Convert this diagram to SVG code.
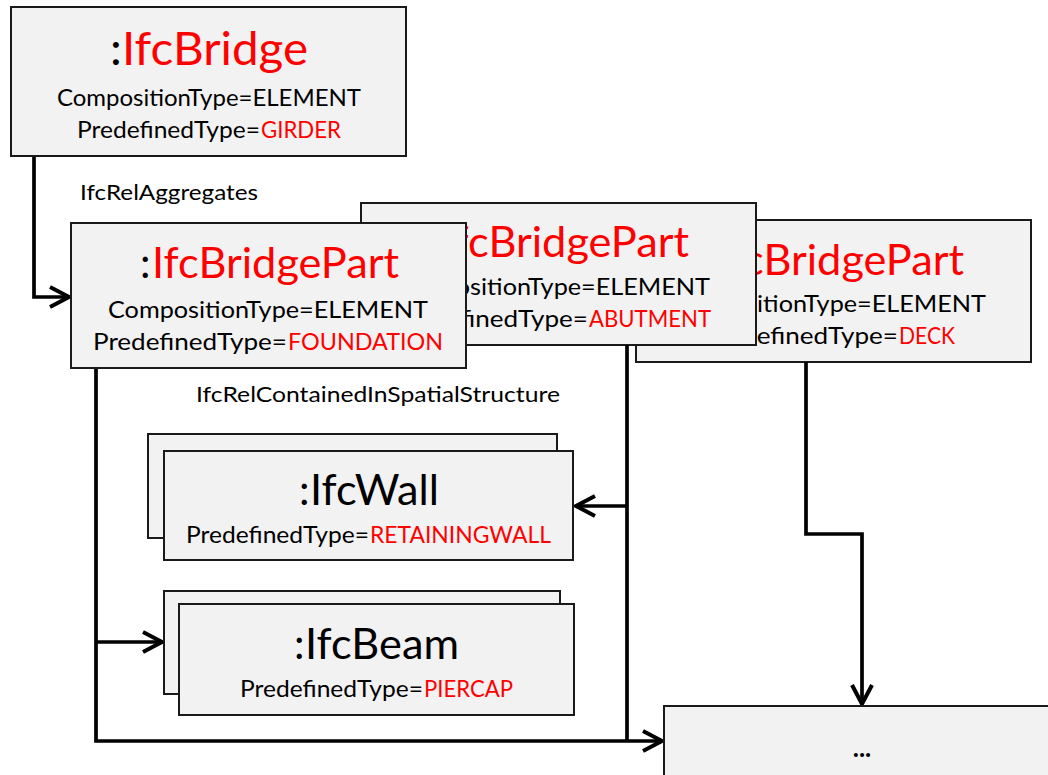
<svg xmlns="http://www.w3.org/2000/svg" width="1048" height="775" viewBox="0 0 1048 775">
  <style>
    .box { fill: #f2f2f2; stroke: #1a1a1a; stroke-width: 2; }
    text { font-family: Lato, "Open Sans", "Liberation Sans", sans-serif; fill: #000; }
    .red { fill: #ff0000; }
    .t1 { font-size: 47px; }
    .t2 { font-size: 42px; }
    .ln { font-size: 23.5px; }
    .lbl { font-size: 20.5px; }
    .wire { fill: none; stroke: #000; stroke-width: 3.7; stroke-linejoin: miter; }
  </style>
  <defs>
    <marker id="open-arrow" markerUnits="userSpaceOnUse" markerWidth="30" markerHeight="30" viewBox="-24 -14 30 28" refX="0" refY="0" orient="auto">
      <path d="M-19,-10 L0,0 L-19,10" fill="none" stroke="#000" stroke-width="4"/>
    </marker>
    <!-- visible area of the deck part (right of the abutment part / below it) -->
    <clipPath id="deck-visible">
      <path d="M756,200 H1048 V380 H600 V345 H756 Z"/>
    </clipPath>
    <!-- visible area of the abutment part (right of the foundation part) -->
    <clipPath id="abutment-visible">
      <path d="M466,190 H760 V350 H466 Z"/>
    </clipPath>
  </defs>

  <!-- deck part sits behind the abutment part, which sits behind the foundation part -->
  <g id="part-deck">
    <rect class="box" x="636" y="220" width="395" height="142"/>
    <g clip-path="url(#deck-visible)">
      <text class="t2" y="275"><tspan x="705">:</tspan><tspan class="red" x="717" textLength="247" lengthAdjust="spacingAndGlyphs">IfcBridgePart</tspan></text>
      <text class="ln" x="666" y="312" textLength="320" lengthAdjust="spacingAndGlyphs">CompositionType=ELEMENT</text>
      <text class="ln" y="344"><tspan x="704" textLength="194" lengthAdjust="spacingAndGlyphs">PredefinedType=</tspan><tspan class="red" x="899" textLength="56" lengthAdjust="spacingAndGlyphs">DECK</tspan></text>
    </g>
  </g>

  <g id="part-abutment">
    <rect class="box" x="361" y="203" width="395" height="142"/>
    <g clip-path="url(#abutment-visible)">
      <text class="t2" y="257"><tspan x="430">:</tspan><tspan class="red" x="442" textLength="247" lengthAdjust="spacingAndGlyphs">IfcBridgePart</tspan></text>
      <text class="ln" x="390" y="295" textLength="320" lengthAdjust="spacingAndGlyphs">CompositionType=ELEMENT</text>
      <text class="ln" y="327"><tspan x="394" textLength="194" lengthAdjust="spacingAndGlyphs">PredefinedType=</tspan><tspan class="red" x="589" textLength="122" lengthAdjust="spacingAndGlyphs">ABUTMENT</tspan></text>
    </g>
  </g>

  <g id="connectors">
    <path class="wire" d="M34,156 V297 H69" marker-end="url(#open-arrow)"/>
    <path class="wire" d="M96,362 V741 H662" marker-end="url(#open-arrow)"/>
    <path class="wire" d="M96,642 H162" marker-end="url(#open-arrow)"/>
    <path class="wire" d="M627,345 V741"/>
    <path class="wire" d="M627,506 H576" marker-end="url(#open-arrow)"/>
    <path class="wire" d="M806,362 V534 H862 V704" marker-end="url(#open-arrow)"/>
  </g>

  <g id="bridge">
    <rect class="box" x="11" y="7" width="395" height="149"/>
    <text class="t1" y="65"><tspan x="110">:</tspan><tspan class="red" x="122" textLength="186" lengthAdjust="spacingAndGlyphs">IfcBridge</tspan></text>
    <text class="ln" x="57" y="106" textLength="304" lengthAdjust="spacingAndGlyphs">CompositionType=ELEMENT</text>
    <text class="ln" y="138"><tspan x="77" textLength="183" lengthAdjust="spacingAndGlyphs">PredefinedType=</tspan><tspan class="red" x="261" textLength="80" lengthAdjust="spacingAndGlyphs">GIRDER</tspan></text>
  </g>

  <g id="label-aggregates">
    <text class="lbl" x="80" y="200" textLength="178" lengthAdjust="spacingAndGlyphs">IfcRelAggregates</text>
  </g>

  <g id="part-foundation">
    <rect class="box" x="71" y="223" width="395" height="145"/>
    <text class="t2" y="278"><tspan x="140">:</tspan><tspan class="red" x="152" textLength="247" lengthAdjust="spacingAndGlyphs">IfcBridgePart</tspan></text>
    <text class="ln" x="108" y="318" textLength="320" lengthAdjust="spacingAndGlyphs">CompositionType=ELEMENT</text>
    <text class="ln" y="350"><tspan x="93" textLength="194" lengthAdjust="spacingAndGlyphs">PredefinedType=</tspan><tspan class="red" x="288" textLength="155" lengthAdjust="spacingAndGlyphs">FOUNDATION</tspan></text>
  </g>

  <g id="label-contained">
    <text class="lbl" x="196" y="402" textLength="364" lengthAdjust="spacingAndGlyphs">IfcRelContainedInSpatialStructure</text>
  </g>

  <g id="wall">
    <rect class="box" x="148" y="434" width="409" height="104"/>
    <rect class="box" x="164" y="451" width="409" height="109"/>
    <text class="t2" y="505"><tspan x="299">:</tspan><tspan x="310" textLength="129" lengthAdjust="spacingAndGlyphs">IfcWall</tspan></text>
    <text class="ln" y="543"><tspan x="186" textLength="183" lengthAdjust="spacingAndGlyphs">PredefinedType=</tspan><tspan class="red" x="370" textLength="181" lengthAdjust="spacingAndGlyphs">RETAININGWALL</tspan></text>
  </g>

  <g id="beam">
    <rect class="box" x="164" y="591" width="396" height="103"/>
    <rect class="box" x="179" y="604" width="395" height="111"/>
    <text class="t2" y="659"><tspan x="294">:</tspan><tspan x="305" textLength="154" lengthAdjust="spacingAndGlyphs">IfcBeam</tspan></text>
    <text class="ln" y="697"><tspan x="240" textLength="183" lengthAdjust="spacingAndGlyphs">PredefinedType=</tspan><tspan class="red" x="424" textLength="89" lengthAdjust="spacingAndGlyphs">PIERCAP</tspan></text>
  </g>

  <g id="more">
    <rect class="box" x="664" y="706" width="400" height="100"/>
    <text x="862" y="757" text-anchor="middle" font-size="26" font-weight="bold">...</text>
  </g>
</svg>
